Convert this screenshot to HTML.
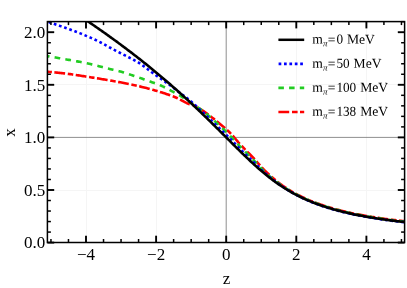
<!DOCTYPE html>
<html><head><meta charset="utf-8"><style>
html,body{margin:0;padding:0;background:#fff;}
svg{display:block;font-family:"Liberation Serif",serif;will-change:transform;}
text{fill:#000;}
</style></head><body>
<svg width="407" height="288" viewBox="0 0 407 288">
<rect width="407" height="288" fill="#fff"/>
<defs><clipPath id="c"><rect x="47.4" y="21.6" width="357.20000000000005" height="220.9"/></clipPath></defs>
<line x1="86.50" y1="21.60" x2="86.50" y2="242.50" stroke="#f5f5f5" stroke-width="1"/><line x1="156.50" y1="21.60" x2="156.50" y2="242.50" stroke="#f5f5f5" stroke-width="1"/><line x1="296.50" y1="21.60" x2="296.50" y2="242.50" stroke="#f5f5f5" stroke-width="1"/><line x1="366.50" y1="21.60" x2="366.50" y2="242.50" stroke="#f5f5f5" stroke-width="1"/><line x1="47.40" y1="190.50" x2="404.60" y2="190.50" stroke="#f5f5f5" stroke-width="1"/><line x1="47.40" y1="84.50" x2="404.60" y2="84.50" stroke="#f5f5f5" stroke-width="1"/>
<line x1="226.20" y1="21.60" x2="226.20" y2="242.50" stroke="#6a6a6a" stroke-width="0.75"/><line x1="47.40" y1="137.40" x2="404.60" y2="137.40" stroke="#6a6a6a" stroke-width="0.75"/>
<g clip-path="url(#c)"><path d="M47.40,71.75 L48.59,71.85 L49.79,71.95 L50.98,72.05 L52.18,72.16 L53.37,72.27 L54.57,72.38 L55.76,72.50 L56.96,72.62 L58.15,72.74 L59.35,72.87 L60.54,73.00 L61.74,73.13 L62.93,73.26 L64.13,73.40 L65.32,73.54 L66.51,73.69 L67.71,73.84 L68.90,74.00 L70.10,74.16 L71.29,74.32 L72.49,74.49 L73.68,74.66 L74.88,74.83 L76.07,75.01 L77.27,75.19 L78.46,75.37 L79.66,75.55 L80.85,75.74 L82.04,75.92 L83.24,76.11 L84.43,76.29 L85.63,76.48 L86.82,76.66 L88.02,76.85 L89.21,77.04 L90.41,77.22 L91.60,77.41 L92.80,77.61 L93.99,77.80 L95.19,77.99 L96.38,78.19 L97.58,78.39 L98.77,78.58 L99.96,78.78 L101.16,78.98 L102.35,79.19 L103.55,79.39 L104.74,79.59 L105.94,79.80 L107.13,80.01 L108.33,80.21 L109.52,80.42 L110.72,80.63 L111.91,80.84 L113.11,81.05 L114.30,81.26 L115.49,81.47 L116.69,81.68 L117.88,81.90 L119.08,82.11 L120.27,82.33 L121.47,82.55 L122.66,82.78 L123.86,83.01 L125.05,83.24 L126.25,83.48 L127.44,83.72 L128.64,83.96 L129.83,84.21 L131.03,84.47 L132.22,84.72 L133.41,84.98 L134.61,85.25 L135.80,85.51 L137.00,85.78 L138.19,86.05 L139.39,86.33 L140.58,86.61 L141.78,86.90 L142.97,87.19 L144.17,87.49 L145.36,87.79 L146.56,88.09 L147.75,88.40 L148.95,88.72 L150.14,89.05 L151.33,89.37 L152.53,89.71 L153.72,90.04 L154.92,90.38 L156.11,90.73 L157.31,91.08 L158.50,91.44 L159.70,91.81 L160.89,92.18 L162.09,92.56 L163.28,92.95 L164.48,93.35 L165.67,93.76 L166.86,94.17 L168.06,94.58 L169.25,95.00 L170.45,95.43 L171.64,95.88 L172.84,96.33 L174.03,96.81 L175.23,97.30 L176.42,97.81 L177.62,98.36 L178.81,98.94 L180.01,99.55 L181.20,100.19 L182.40,100.82 L183.59,101.46 L184.78,102.08 L185.98,102.68 L187.17,103.24 L188.37,103.76 L189.56,104.16 L190.76,104.47 L191.95,104.76 L193.15,105.14 L194.34,105.66 L195.54,106.26 L196.73,106.91 L197.93,107.60 L199.12,108.32 L200.32,109.06 L201.51,109.83 L202.70,110.62 L203.90,111.44 L205.09,112.28 L206.29,113.14 L207.48,114.02 L208.68,114.91 L209.87,115.82 L211.07,116.74 L212.26,117.68 L213.46,118.64 L214.65,119.62 L215.85,120.58 L217.04,121.55 L218.23,122.51 L219.43,123.49 L220.62,124.46 L221.82,125.45 L223.01,126.46 L224.21,127.48 L225.40,128.52 L226.60,129.59 L227.79,130.68 L228.99,131.81 L230.18,132.97 L231.38,134.18 L232.57,135.48 L233.77,136.86 L234.96,138.29 L236.15,139.74 L237.35,141.18 L238.54,142.59 L239.74,143.92 L240.93,145.21 L242.13,146.47 L243.32,147.71 L244.52,148.94 L245.71,150.16 L246.91,151.37 L248.10,152.58 L249.30,153.79 L250.49,155.00 L251.68,156.23 L252.88,157.46 L254.07,158.75 L255.27,160.06 L256.46,161.41 L257.66,162.76 L258.85,164.12 L260.05,165.47 L261.24,166.81 L262.44,168.11 L263.63,169.36 L264.83,170.57 L266.02,171.74 L267.22,172.89 L268.41,174.03 L269.60,175.14 L270.80,176.23 L271.99,177.29 L273.19,178.33 L274.38,179.34 L275.58,180.32 L276.77,181.27 L277.97,182.19 L279.16,183.09 L280.36,183.97 L281.55,184.84 L282.75,185.69 L283.94,186.52 L285.14,187.34 L286.33,188.14 L287.52,188.92 L288.72,189.68 L289.91,190.42 L291.11,191.14 L292.30,191.85 L293.50,192.53 L294.69,193.20 L295.89,193.84 L297.08,194.47 L298.28,195.08 L299.47,195.69 L300.67,196.28 L301.86,196.85 L303.05,197.42 L304.25,197.97 L305.44,198.52 L306.64,199.05 L307.83,199.57 L309.03,200.08 L310.22,200.59 L311.42,201.08 L312.61,201.56 L313.81,202.03 L315.00,202.49 L316.20,202.94 L317.39,203.39 L318.59,203.82 L319.78,204.25 L320.97,204.67 L322.17,205.08 L323.36,205.48 L324.56,205.87 L325.75,206.26 L326.95,206.64 L328.14,207.01 L329.34,207.37 L330.53,207.73 L331.73,208.08 L332.92,208.42 L334.12,208.76 L335.31,209.09 L336.51,209.42 L337.70,209.74 L338.89,210.05 L340.09,210.36 L341.28,210.66 L342.48,210.96 L343.67,211.25 L344.87,211.54 L346.06,211.82 L347.26,212.09 L348.45,212.37 L349.65,212.63 L350.84,212.90 L352.04,213.15 L353.23,213.41 L354.42,213.66 L355.62,213.90 L356.81,214.15 L358.01,214.38 L359.20,214.62 L360.40,214.85 L361.59,215.07 L362.79,215.30 L363.98,215.51 L365.18,215.73 L366.37,215.94 L367.57,216.15 L368.76,216.36 L369.96,216.56 L371.15,216.76 L372.34,216.95 L373.54,217.14 L374.73,217.33 L375.93,217.52 L377.12,217.71 L378.32,217.89 L379.51,218.06 L380.71,218.24 L381.90,218.41 L383.10,218.58 L384.29,218.75 L385.49,218.92 L386.68,219.08 L387.87,219.24 L389.07,219.40 L390.26,219.56 L391.46,219.71 L392.65,219.86 L393.85,220.01 L395.04,220.16 L396.24,220.30 L397.43,220.44 L398.63,220.58 L399.82,220.72 L401.02,220.86 L402.21,220.99 L403.41,221.13 L404.60,221.26" fill="none" stroke="#ff0000" stroke-width="2.6" stroke-dasharray="10.8 2.7 5.5 2.5" stroke-dashoffset="14.5"/><path d="M47.40,56.18 L48.59,56.37 L49.79,56.57 L50.98,56.77 L52.18,56.97 L53.37,57.17 L54.57,57.37 L55.76,57.57 L56.96,57.78 L58.15,57.98 L59.35,58.19 L60.54,58.40 L61.74,58.60 L62.93,58.81 L64.13,59.03 L65.32,59.24 L66.51,59.45 L67.71,59.67 L68.90,59.88 L70.10,60.09 L71.29,60.31 L72.49,60.52 L73.68,60.74 L74.88,60.95 L76.07,61.17 L77.27,61.39 L78.46,61.61 L79.66,61.84 L80.85,62.07 L82.04,62.30 L83.24,62.54 L84.43,62.79 L85.63,63.03 L86.82,63.29 L88.02,63.55 L89.21,63.82 L90.41,64.09 L91.60,64.38 L92.80,64.66 L93.99,64.95 L95.19,65.25 L96.38,65.55 L97.58,65.85 L98.77,66.15 L99.96,66.46 L101.16,66.77 L102.35,67.08 L103.55,67.38 L104.74,67.69 L105.94,68.00 L107.13,68.30 L108.33,68.61 L109.52,68.91 L110.72,69.20 L111.91,69.48 L113.11,69.77 L114.30,70.05 L115.49,70.33 L116.69,70.62 L117.88,70.92 L119.08,71.22 L120.27,71.54 L121.47,71.87 L122.66,72.22 L123.86,72.58 L125.05,72.94 L126.25,73.32 L127.44,73.70 L128.64,74.09 L129.83,74.48 L131.03,74.87 L132.22,75.27 L133.41,75.67 L134.61,76.07 L135.80,76.47 L137.00,76.88 L138.19,77.29 L139.39,77.71 L140.58,78.13 L141.78,78.56 L142.97,78.98 L144.17,79.41 L145.36,79.85 L146.56,80.28 L147.75,80.72 L148.95,81.15 L150.14,81.59 L151.33,82.02 L152.53,82.44 L153.72,82.85 L154.92,83.27 L156.11,83.69 L157.31,84.12 L158.50,84.58 L159.70,85.05 L160.89,85.55 L162.09,86.08 L163.28,86.64 L164.48,87.23 L165.67,87.83 L166.86,88.45 L168.06,89.08 L169.25,89.73 L170.45,90.37 L171.64,91.02 L172.84,91.66 L174.03,92.30 L175.23,92.94 L176.42,93.60 L177.62,94.26 L178.81,94.95 L180.01,95.66 L181.20,96.40 L182.40,97.16 L183.59,97.92 L184.78,98.68 L185.98,99.44 L187.17,100.21 L188.37,100.98 L189.56,101.76 L190.76,102.55 L191.95,103.34 L193.15,104.14 L194.34,104.95 L195.54,105.77 L196.73,106.60 L197.93,107.45 L199.12,108.30 L200.32,109.17 L201.51,110.06 L202.70,110.96 L203.90,111.87 L205.09,112.81 L206.29,113.76 L207.48,114.72 L208.68,115.71 L209.87,116.72 L211.07,117.75 L212.26,118.80 L213.46,119.88 L214.65,120.97 L215.85,122.09 L217.04,123.22 L218.23,124.34 L219.43,125.47 L220.62,126.61 L221.82,127.75 L223.01,128.90 L224.21,130.05 L225.40,131.21 L226.60,132.38 L227.79,133.55 L228.99,134.73 L230.18,135.91 L231.38,137.11 L232.57,138.36 L233.77,139.64 L234.96,140.94 L236.15,142.26 L237.35,143.57 L238.54,144.86 L239.74,146.13 L240.93,147.37 L242.13,148.59 L243.32,149.81 L244.52,151.01 L245.71,152.20 L246.91,153.39 L248.10,154.58 L249.30,155.76 L250.49,156.95 L251.68,158.14 L252.88,159.34 L254.07,160.59 L255.27,161.87 L256.46,163.19 L257.66,164.51 L258.85,165.84 L260.05,167.16 L261.24,168.45 L262.44,169.70 L263.63,170.90 L264.83,172.04 L266.02,173.13 L267.22,174.20 L268.41,175.25 L269.60,176.29 L270.80,177.29 L271.99,178.28 L273.19,179.25 L274.38,180.19 L275.58,181.11 L276.77,182.01 L277.97,182.89 L279.16,183.75 L280.36,184.60 L281.55,185.43 L282.75,186.25 L283.94,187.04 L285.14,187.83 L286.33,188.59 L287.52,189.34 L288.72,190.08 L289.91,190.80 L291.11,191.50 L292.30,192.19 L293.50,192.86 L294.69,193.52 L295.89,194.16 L297.08,194.78 L298.28,195.40 L299.47,196.00 L300.67,196.59 L301.86,197.17 L303.05,197.73 L304.25,198.29 L305.44,198.83 L306.64,199.36 L307.83,199.89 L309.03,200.40 L310.22,200.90 L311.42,201.39 L312.61,201.87 L313.81,202.34 L315.00,202.81 L316.20,203.26 L317.39,203.70 L318.59,204.14 L319.78,204.56 L320.97,204.98 L322.17,205.39 L323.36,205.79 L324.56,206.19 L325.75,206.57 L326.95,206.95 L328.14,207.32 L329.34,207.69 L330.53,208.04 L331.73,208.39 L332.92,208.74 L334.12,209.08 L335.31,209.41 L336.51,209.73 L337.70,210.05 L338.89,210.37 L340.09,210.67 L341.28,210.98 L342.48,211.27 L343.67,211.56 L344.87,211.85 L346.06,212.13 L347.26,212.41 L348.45,212.68 L349.65,212.95 L350.84,213.21 L352.04,213.47 L353.23,213.73 L354.42,213.98 L355.62,214.22 L356.81,214.47 L358.01,214.70 L359.20,214.94 L360.40,215.17 L361.59,215.39 L362.79,215.62 L363.98,215.84 L365.18,216.05 L366.37,216.27 L367.57,216.48 L368.76,216.68 L369.96,216.89 L371.15,217.09 L372.34,217.28 L373.54,217.48 L374.73,217.67 L375.93,217.86 L377.12,218.04 L378.32,218.23 L379.51,218.41 L380.71,218.58 L381.90,218.76 L383.10,218.93 L384.29,219.10 L385.49,219.27 L386.68,219.43 L387.87,219.60 L389.07,219.76 L390.26,219.92 L391.46,220.07 L392.65,220.23 L393.85,220.38 L395.04,220.53 L396.24,220.68 L397.43,220.83 L398.63,220.97 L399.82,221.11 L401.02,221.25 L402.21,221.39 L403.41,221.53 L404.60,221.66" fill="none" stroke="#22cc22" stroke-width="2.6" stroke-dasharray="5.7 5.2" stroke-dashoffset="3.6"/><path d="M47.40,21.64 L48.59,22.04 L49.79,22.43 L50.98,22.83 L52.18,23.24 L53.37,23.64 L54.57,24.05 L55.76,24.46 L56.96,24.87 L58.15,25.28 L59.35,25.70 L60.54,26.12 L61.74,26.54 L62.93,26.97 L64.13,27.40 L65.32,27.83 L66.51,28.26 L67.71,28.69 L68.90,29.12 L70.10,29.56 L71.29,29.99 L72.49,30.43 L73.68,30.87 L74.88,31.32 L76.07,31.77 L77.27,32.22 L78.46,32.68 L79.66,33.15 L80.85,33.62 L82.04,34.10 L83.24,34.59 L84.43,35.08 L85.63,35.58 L86.82,36.09 L88.02,36.60 L89.21,37.12 L90.41,37.64 L91.60,38.16 L92.80,38.70 L93.99,39.24 L95.19,39.79 L96.38,40.35 L97.58,40.93 L98.77,41.52 L99.96,42.12 L101.16,42.73 L102.35,43.36 L103.55,44.01 L104.74,44.67 L105.94,45.33 L107.13,46.00 L108.33,46.67 L109.52,47.34 L110.72,48.01 L111.91,48.68 L113.11,49.33 L114.30,49.98 L115.49,50.61 L116.69,51.23 L117.88,51.84 L119.08,52.44 L120.27,53.03 L121.47,53.63 L122.66,54.22 L123.86,54.81 L125.05,55.40 L126.25,56.01 L127.44,56.62 L128.64,57.24 L129.83,57.88 L131.03,58.50 L132.22,59.11 L133.41,59.72 L134.61,60.35 L135.80,60.99 L137.00,61.66 L138.19,62.37 L139.39,63.13 L140.58,63.94 L141.78,64.78 L142.97,65.64 L144.17,66.52 L145.36,67.40 L146.56,68.30 L147.75,69.20 L148.95,70.11 L150.14,71.02 L151.33,71.92 L152.53,72.82 L153.72,73.71 L154.92,74.59 L156.11,75.45 L157.31,76.30 L158.50,77.14 L159.70,77.96 L160.89,78.78 L162.09,79.60 L163.28,80.43 L164.48,81.25 L165.67,82.09 L166.86,82.93 L168.06,83.79 L169.25,84.67 L170.45,85.57 L171.64,86.47 L172.84,87.38 L174.03,88.31 L175.23,89.25 L176.42,90.20 L177.62,91.16 L178.81,92.10 L180.01,93.02 L181.20,93.88 L182.40,94.70 L183.59,95.53 L184.78,96.43 L185.98,97.35 L187.17,98.30 L188.37,99.28 L189.56,100.28 L190.76,101.30 L191.95,102.33 L193.15,103.39 L194.34,104.45 L195.54,105.54 L196.73,106.63 L197.93,107.73 L199.12,108.83 L200.32,109.95 L201.51,111.06 L202.70,112.19 L203.90,113.32 L205.09,114.45 L206.29,115.59 L207.48,116.73 L208.68,117.88 L209.87,119.03 L211.07,120.18 L212.26,121.33 L213.46,122.49 L214.65,123.65 L215.85,124.81 L217.04,125.97 L218.23,127.13 L219.43,128.29 L220.62,129.44 L221.82,130.59 L223.01,131.75 L224.21,132.90 L225.40,134.06 L226.60,135.22 L227.79,136.39 L228.99,137.57 L230.18,138.75 L231.38,139.95 L232.57,141.16 L233.77,142.39 L234.96,143.62 L236.15,144.86 L237.35,146.09 L238.54,147.32 L239.74,148.53 L240.93,149.73 L242.13,150.92 L243.32,152.10 L244.52,153.27 L245.71,154.43 L246.91,155.59 L248.10,156.74 L249.30,157.89 L250.49,159.03 L251.68,160.17 L252.88,161.31 L254.07,162.47 L255.27,163.64 L256.46,164.83 L257.66,166.02 L258.85,167.21 L260.05,168.39 L261.24,169.56 L262.44,170.70 L263.63,171.80 L264.83,172.88 L266.02,173.92 L267.22,174.95 L268.41,175.96 L269.60,176.95 L270.80,177.92 L271.99,178.88 L273.19,179.82 L274.38,180.75 L275.58,181.65 L276.77,182.54 L277.97,183.41 L279.16,184.27 L280.36,185.11 L281.55,185.94 L282.75,186.75 L283.94,187.55 L285.14,188.33 L286.33,189.10 L287.52,189.85 L288.72,190.58 L289.91,191.31 L291.11,192.01 L292.30,192.70 L293.50,193.38 L294.69,194.04 L295.89,194.68 L297.08,195.31 L298.28,195.93 L299.47,196.54 L300.67,197.13 L301.86,197.72 L303.05,198.29 L304.25,198.85 L305.44,199.40 L306.64,199.93 L307.83,200.46 L309.03,200.98 L310.22,201.48 L311.42,201.98 L312.61,202.46 L313.81,202.94 L315.00,203.41 L316.20,203.86 L317.39,204.31 L318.59,204.75 L319.78,205.18 L320.97,205.60 L322.17,206.01 L323.36,206.42 L324.56,206.81 L325.75,207.20 L326.95,207.58 L328.14,207.95 L329.34,208.32 L330.53,208.68 L331.73,209.03 L332.92,209.37 L334.12,209.71 L335.31,210.04 L336.51,210.36 L337.70,210.68 L338.89,211.00 L340.09,211.30 L341.28,211.61 L342.48,211.90 L343.67,212.20 L344.87,212.48 L346.06,212.76 L347.26,213.04 L348.45,213.31 L349.65,213.58 L350.84,213.84 L352.04,214.10 L353.23,214.36 L354.42,214.61 L355.62,214.85 L356.81,215.10 L358.01,215.33 L359.20,215.57 L360.40,215.80 L361.59,216.03 L362.79,216.25 L363.98,216.47 L365.18,216.69 L366.37,216.90 L367.57,217.11 L368.76,217.31 L369.96,217.52 L371.15,217.72 L372.34,217.91 L373.54,218.11 L374.73,218.30 L375.93,218.49 L377.12,218.67 L378.32,218.86 L379.51,219.04 L380.71,219.21 L381.90,219.39 L383.10,219.56 L384.29,219.73 L385.49,219.90 L386.68,220.07 L387.87,220.23 L389.07,220.39 L390.26,220.55 L391.46,220.71 L392.65,220.86 L393.85,221.01 L395.04,221.16 L396.24,221.31 L397.43,221.46 L398.63,221.60 L399.82,221.74 L401.02,221.88 L402.21,222.02 L403.41,222.16 L404.60,222.30" fill="none" stroke="#0000ff" stroke-width="2.6" stroke-dasharray="2.7 2.75" stroke-dashoffset="4.1"/><path d="M47.40,-4.71 L48.59,-3.98 L49.79,-3.24 L50.98,-2.50 L52.18,-1.76 L53.37,-1.02 L54.57,-0.27 L55.76,0.48 L56.96,1.23 L58.15,1.98 L59.35,2.73 L60.54,3.49 L61.74,4.24 L62.93,5.00 L64.13,5.76 L65.32,6.53 L66.51,7.29 L67.71,8.06 L68.90,8.83 L70.10,9.61 L71.29,10.38 L72.49,11.16 L73.68,11.94 L74.88,12.72 L76.07,13.50 L77.27,14.29 L78.46,15.08 L79.66,15.87 L80.85,16.66 L82.04,17.46 L83.24,18.26 L84.43,19.06 L85.63,19.86 L86.82,20.67 L88.02,21.48 L89.21,22.29 L90.41,23.10 L91.60,23.91 L92.80,24.73 L93.99,25.55 L95.19,26.38 L96.38,27.20 L97.58,28.03 L98.77,28.86 L99.96,29.70 L101.16,30.53 L102.35,31.37 L103.55,32.22 L104.74,33.06 L105.94,33.91 L107.13,34.76 L108.33,35.61 L109.52,36.47 L110.72,37.33 L111.91,38.19 L113.11,39.06 L114.30,39.93 L115.49,40.80 L116.69,41.67 L117.88,42.55 L119.08,43.43 L120.27,44.31 L121.47,45.20 L122.66,46.09 L123.86,46.98 L125.05,47.88 L126.25,48.78 L127.44,49.68 L128.64,50.59 L129.83,51.50 L131.03,52.41 L132.22,53.32 L133.41,54.24 L134.61,55.17 L135.80,56.09 L137.00,57.02 L138.19,57.96 L139.39,58.89 L140.58,59.83 L141.78,60.78 L142.97,61.72 L144.17,62.68 L145.36,63.63 L146.56,64.59 L147.75,65.55 L148.95,66.52 L150.14,67.49 L151.33,68.46 L152.53,69.44 L153.72,70.42 L154.92,71.40 L156.11,72.39 L157.31,73.39 L158.50,74.38 L159.70,75.38 L160.89,76.39 L162.09,77.40 L163.28,78.41 L164.48,79.43 L165.67,80.45 L166.86,81.48 L168.06,82.51 L169.25,83.54 L170.45,84.58 L171.64,85.62 L172.84,86.67 L174.03,87.72 L175.23,88.77 L176.42,89.83 L177.62,90.89 L178.81,91.96 L180.01,93.03 L181.20,94.11 L182.40,95.19 L183.59,96.28 L184.78,97.36 L185.98,98.46 L187.17,99.56 L188.37,100.66 L189.56,101.76 L190.76,102.87 L191.95,103.99 L193.15,105.11 L194.34,106.23 L195.54,107.36 L196.73,108.49 L197.93,109.62 L199.12,110.76 L200.32,111.90 L201.51,113.05 L202.70,114.20 L203.90,115.36 L205.09,116.51 L206.29,117.67 L207.48,118.84 L208.68,120.01 L209.87,121.18 L211.07,122.35 L212.26,123.53 L213.46,124.71 L214.65,125.89 L215.85,127.07 L217.04,128.26 L218.23,129.45 L219.43,130.63 L220.62,131.83 L221.82,133.02 L223.01,134.21 L224.21,135.41 L225.40,136.60 L226.60,137.80 L227.79,138.99 L228.99,140.19 L230.18,141.38 L231.38,142.57 L232.57,143.77 L233.77,144.95 L234.96,146.14 L236.15,147.33 L237.35,148.51 L238.54,149.69 L239.74,150.86 L240.93,152.03 L242.13,153.20 L243.32,154.36 L244.52,155.51 L245.71,156.66 L246.91,157.80 L248.10,158.93 L249.30,160.06 L250.49,161.18 L251.68,162.29 L252.88,163.39 L254.07,164.48 L255.27,165.56 L256.46,166.64 L257.66,167.70 L258.85,168.75 L260.05,169.79 L261.24,170.81 L262.44,171.83 L263.63,172.83 L264.83,173.82 L266.02,174.80 L267.22,175.76 L268.41,176.71 L269.60,177.65 L270.80,178.57 L271.99,179.48 L273.19,180.37 L274.38,181.25 L275.58,182.12 L276.77,182.97 L277.97,183.81 L279.16,184.63 L280.36,185.44 L281.55,186.23 L282.75,187.01 L283.94,187.78 L285.14,188.53 L286.33,189.27 L287.52,189.99 L288.72,190.70 L289.91,191.40 L291.11,192.08 L292.30,192.75 L293.50,193.41 L294.69,194.06 L295.89,194.69 L297.08,195.31 L298.28,195.91 L299.47,196.51 L300.67,197.09 L301.86,197.66 L303.05,198.22 L304.25,198.77 L305.44,199.31 L306.64,199.84 L307.83,200.36 L309.03,200.86 L310.22,201.36 L311.42,201.85 L312.61,202.32 L313.81,202.79 L315.00,203.25 L316.20,203.70 L317.39,204.14 L318.59,204.57 L319.78,205.00 L320.97,205.41 L322.17,205.82 L323.36,206.22 L324.56,206.61 L325.75,207.00 L326.95,207.38 L328.14,207.75 L329.34,208.11 L330.53,208.47 L331.73,208.82 L332.92,209.16 L334.12,209.50 L335.31,209.83 L336.51,210.15 L337.70,210.47 L338.89,210.79 L340.09,211.09 L341.28,211.40 L342.48,211.69 L343.67,211.99 L344.87,212.27 L346.06,212.55 L347.26,212.83 L348.45,213.10 L349.65,213.37 L350.84,213.63 L352.04,213.89 L353.23,214.15 L354.42,214.40 L355.62,214.64 L356.81,214.89 L358.01,215.12 L359.20,215.36 L360.40,215.59 L361.59,215.82 L362.79,216.04 L363.98,216.26 L365.18,216.47 L366.37,216.69 L367.57,216.90 L368.76,217.10 L369.96,217.31 L371.15,217.51 L372.34,217.70 L373.54,217.90 L374.73,218.09 L375.93,218.28 L377.12,218.46 L378.32,218.65 L379.51,218.83 L380.71,219.00 L381.90,219.18 L383.10,219.35 L384.29,219.52 L385.49,219.69 L386.68,219.86 L387.87,220.02 L389.07,220.18 L390.26,220.34 L391.46,220.49 L392.65,220.65 L393.85,220.80 L395.04,220.95 L396.24,221.10 L397.43,221.25 L398.63,221.39 L399.82,221.53 L401.02,221.67 L402.21,221.81 L403.41,221.95 L404.60,222.08" fill="none" stroke="#000" stroke-width="2.6"/></g>
<line x1="50.95" y1="242.50" x2="50.95" y2="239.00" stroke="#000" stroke-width="1.5"/><line x1="50.95" y1="21.60" x2="50.95" y2="25.10" stroke="#000" stroke-width="1.5"/><line x1="68.47" y1="242.50" x2="68.47" y2="239.00" stroke="#000" stroke-width="1.5"/><line x1="68.47" y1="21.60" x2="68.47" y2="25.10" stroke="#000" stroke-width="1.5"/><line x1="86.00" y1="242.50" x2="86.00" y2="235.70" stroke="#000" stroke-width="1.9"/><line x1="86.00" y1="21.60" x2="86.00" y2="28.40" stroke="#000" stroke-width="1.9"/><line x1="103.53" y1="242.50" x2="103.53" y2="239.00" stroke="#000" stroke-width="1.5"/><line x1="103.53" y1="21.60" x2="103.53" y2="25.10" stroke="#000" stroke-width="1.5"/><line x1="121.05" y1="242.50" x2="121.05" y2="239.00" stroke="#000" stroke-width="1.5"/><line x1="121.05" y1="21.60" x2="121.05" y2="25.10" stroke="#000" stroke-width="1.5"/><line x1="138.57" y1="242.50" x2="138.57" y2="239.00" stroke="#000" stroke-width="1.5"/><line x1="138.57" y1="21.60" x2="138.57" y2="25.10" stroke="#000" stroke-width="1.5"/><line x1="156.10" y1="242.50" x2="156.10" y2="235.70" stroke="#000" stroke-width="1.9"/><line x1="156.10" y1="21.60" x2="156.10" y2="28.40" stroke="#000" stroke-width="1.9"/><line x1="173.62" y1="242.50" x2="173.62" y2="239.00" stroke="#000" stroke-width="1.5"/><line x1="173.62" y1="21.60" x2="173.62" y2="25.10" stroke="#000" stroke-width="1.5"/><line x1="191.15" y1="242.50" x2="191.15" y2="239.00" stroke="#000" stroke-width="1.5"/><line x1="191.15" y1="21.60" x2="191.15" y2="25.10" stroke="#000" stroke-width="1.5"/><line x1="208.67" y1="242.50" x2="208.67" y2="239.00" stroke="#000" stroke-width="1.5"/><line x1="208.67" y1="21.60" x2="208.67" y2="25.10" stroke="#000" stroke-width="1.5"/><line x1="226.20" y1="242.50" x2="226.20" y2="235.70" stroke="#000" stroke-width="1.9"/><line x1="226.20" y1="21.60" x2="226.20" y2="28.40" stroke="#000" stroke-width="1.9"/><line x1="243.72" y1="242.50" x2="243.72" y2="239.00" stroke="#000" stroke-width="1.5"/><line x1="243.72" y1="21.60" x2="243.72" y2="25.10" stroke="#000" stroke-width="1.5"/><line x1="261.25" y1="242.50" x2="261.25" y2="239.00" stroke="#000" stroke-width="1.5"/><line x1="261.25" y1="21.60" x2="261.25" y2="25.10" stroke="#000" stroke-width="1.5"/><line x1="278.77" y1="242.50" x2="278.77" y2="239.00" stroke="#000" stroke-width="1.5"/><line x1="278.77" y1="21.60" x2="278.77" y2="25.10" stroke="#000" stroke-width="1.5"/><line x1="296.30" y1="242.50" x2="296.30" y2="235.70" stroke="#000" stroke-width="1.9"/><line x1="296.30" y1="21.60" x2="296.30" y2="28.40" stroke="#000" stroke-width="1.9"/><line x1="313.82" y1="242.50" x2="313.82" y2="239.00" stroke="#000" stroke-width="1.5"/><line x1="313.82" y1="21.60" x2="313.82" y2="25.10" stroke="#000" stroke-width="1.5"/><line x1="331.35" y1="242.50" x2="331.35" y2="239.00" stroke="#000" stroke-width="1.5"/><line x1="331.35" y1="21.60" x2="331.35" y2="25.10" stroke="#000" stroke-width="1.5"/><line x1="348.88" y1="242.50" x2="348.88" y2="239.00" stroke="#000" stroke-width="1.5"/><line x1="348.88" y1="21.60" x2="348.88" y2="25.10" stroke="#000" stroke-width="1.5"/><line x1="366.40" y1="242.50" x2="366.40" y2="235.70" stroke="#000" stroke-width="1.9"/><line x1="366.40" y1="21.60" x2="366.40" y2="28.40" stroke="#000" stroke-width="1.9"/><line x1="383.92" y1="242.50" x2="383.92" y2="239.00" stroke="#000" stroke-width="1.5"/><line x1="383.92" y1="21.60" x2="383.92" y2="25.10" stroke="#000" stroke-width="1.5"/><line x1="401.45" y1="242.50" x2="401.45" y2="239.00" stroke="#000" stroke-width="1.5"/><line x1="401.45" y1="21.60" x2="401.45" y2="25.10" stroke="#000" stroke-width="1.5"/><line x1="47.40" y1="242.60" x2="54.20" y2="242.60" stroke="#000" stroke-width="1.9"/><line x1="404.60" y1="242.60" x2="397.80" y2="242.60" stroke="#000" stroke-width="1.9"/><line x1="47.40" y1="232.08" x2="50.90" y2="232.08" stroke="#000" stroke-width="1.5"/><line x1="404.60" y1="232.08" x2="401.10" y2="232.08" stroke="#000" stroke-width="1.5"/><line x1="47.40" y1="221.56" x2="50.90" y2="221.56" stroke="#000" stroke-width="1.5"/><line x1="404.60" y1="221.56" x2="401.10" y2="221.56" stroke="#000" stroke-width="1.5"/><line x1="47.40" y1="211.04" x2="50.90" y2="211.04" stroke="#000" stroke-width="1.5"/><line x1="404.60" y1="211.04" x2="401.10" y2="211.04" stroke="#000" stroke-width="1.5"/><line x1="47.40" y1="200.52" x2="50.90" y2="200.52" stroke="#000" stroke-width="1.5"/><line x1="404.60" y1="200.52" x2="401.10" y2="200.52" stroke="#000" stroke-width="1.5"/><line x1="47.40" y1="190.00" x2="54.20" y2="190.00" stroke="#000" stroke-width="1.9"/><line x1="404.60" y1="190.00" x2="397.80" y2="190.00" stroke="#000" stroke-width="1.9"/><line x1="47.40" y1="179.48" x2="50.90" y2="179.48" stroke="#000" stroke-width="1.5"/><line x1="404.60" y1="179.48" x2="401.10" y2="179.48" stroke="#000" stroke-width="1.5"/><line x1="47.40" y1="168.96" x2="50.90" y2="168.96" stroke="#000" stroke-width="1.5"/><line x1="404.60" y1="168.96" x2="401.10" y2="168.96" stroke="#000" stroke-width="1.5"/><line x1="47.40" y1="158.44" x2="50.90" y2="158.44" stroke="#000" stroke-width="1.5"/><line x1="404.60" y1="158.44" x2="401.10" y2="158.44" stroke="#000" stroke-width="1.5"/><line x1="47.40" y1="147.92" x2="50.90" y2="147.92" stroke="#000" stroke-width="1.5"/><line x1="404.60" y1="147.92" x2="401.10" y2="147.92" stroke="#000" stroke-width="1.5"/><line x1="47.40" y1="137.40" x2="54.20" y2="137.40" stroke="#000" stroke-width="1.9"/><line x1="404.60" y1="137.40" x2="397.80" y2="137.40" stroke="#000" stroke-width="1.9"/><line x1="47.40" y1="126.88" x2="50.90" y2="126.88" stroke="#000" stroke-width="1.5"/><line x1="404.60" y1="126.88" x2="401.10" y2="126.88" stroke="#000" stroke-width="1.5"/><line x1="47.40" y1="116.36" x2="50.90" y2="116.36" stroke="#000" stroke-width="1.5"/><line x1="404.60" y1="116.36" x2="401.10" y2="116.36" stroke="#000" stroke-width="1.5"/><line x1="47.40" y1="105.84" x2="50.90" y2="105.84" stroke="#000" stroke-width="1.5"/><line x1="404.60" y1="105.84" x2="401.10" y2="105.84" stroke="#000" stroke-width="1.5"/><line x1="47.40" y1="95.32" x2="50.90" y2="95.32" stroke="#000" stroke-width="1.5"/><line x1="404.60" y1="95.32" x2="401.10" y2="95.32" stroke="#000" stroke-width="1.5"/><line x1="47.40" y1="84.80" x2="54.20" y2="84.80" stroke="#000" stroke-width="1.9"/><line x1="404.60" y1="84.80" x2="397.80" y2="84.80" stroke="#000" stroke-width="1.9"/><line x1="47.40" y1="74.28" x2="50.90" y2="74.28" stroke="#000" stroke-width="1.5"/><line x1="404.60" y1="74.28" x2="401.10" y2="74.28" stroke="#000" stroke-width="1.5"/><line x1="47.40" y1="63.76" x2="50.90" y2="63.76" stroke="#000" stroke-width="1.5"/><line x1="404.60" y1="63.76" x2="401.10" y2="63.76" stroke="#000" stroke-width="1.5"/><line x1="47.40" y1="53.24" x2="50.90" y2="53.24" stroke="#000" stroke-width="1.5"/><line x1="404.60" y1="53.24" x2="401.10" y2="53.24" stroke="#000" stroke-width="1.5"/><line x1="47.40" y1="42.72" x2="50.90" y2="42.72" stroke="#000" stroke-width="1.5"/><line x1="404.60" y1="42.72" x2="401.10" y2="42.72" stroke="#000" stroke-width="1.5"/><line x1="47.40" y1="32.20" x2="54.20" y2="32.20" stroke="#000" stroke-width="1.9"/><line x1="404.60" y1="32.20" x2="397.80" y2="32.20" stroke="#000" stroke-width="1.9"/><line x1="47.40" y1="21.68" x2="50.90" y2="21.68" stroke="#000" stroke-width="1.5"/><line x1="404.60" y1="21.68" x2="401.10" y2="21.68" stroke="#000" stroke-width="1.5"/>
<rect x="47.4" y="21.6" width="357.20000000000005" height="220.9" fill="none" stroke="#000" stroke-width="1.5"/>
<text x="86.00" y="260.3" text-anchor="middle" font-size="17">−4</text><text x="156.10" y="260.3" text-anchor="middle" font-size="17">−2</text><text x="226.20" y="260.3" text-anchor="middle" font-size="17">0</text><text x="296.30" y="260.3" text-anchor="middle" font-size="17">2</text><text x="366.40" y="260.3" text-anchor="middle" font-size="17">4</text><text x="45.2" y="248.30" text-anchor="end" font-size="17">0.0</text><text x="45.2" y="195.70" text-anchor="end" font-size="17">0.5</text><text x="45.2" y="143.10" text-anchor="end" font-size="17">1.0</text><text x="45.2" y="90.50" text-anchor="end" font-size="17">1.5</text><text x="45.2" y="37.90" text-anchor="end" font-size="17">2.0</text><text x="226.4" y="283.6" text-anchor="middle" font-size="17">z</text><text transform="translate(15.2,132.5) rotate(-90)" text-anchor="middle" font-size="17">x</text>
<line x1="278.4" y1="39.8" x2="304.2" y2="39.8" stroke="#000" stroke-width="2.5"/><text transform="translate(312.3,43.6) rotate(0.2)" font-size="13.6" >m</text><text transform="translate(322.9,46.3) rotate(0.2)" font-size="9" font-style="italic">π</text><text transform="translate(327.8,44.0) rotate(0.2)" font-size="13.6" >=</text><text transform="translate(336.4,43.6) rotate(0.2)" font-size="13.6" textLength="6.6" lengthAdjust="spacingAndGlyphs">0</text><text transform="translate(347.0,43.6) rotate(0.2)" font-size="13.6" >MeV</text><line x1="278.4" y1="63.9" x2="304.2" y2="63.9" stroke="#0000ff" stroke-width="2.6" stroke-dasharray="2.7 2.7" stroke-dashoffset="-0.2"/><text transform="translate(312.3,67.7) rotate(0.2)" font-size="13.6" >m</text><text transform="translate(322.9,70.4) rotate(0.2)" font-size="9" font-style="italic">π</text><text transform="translate(327.8,68.1) rotate(0.2)" font-size="13.6" >=</text><text transform="translate(336.4,67.7) rotate(0.2)" font-size="13.6" textLength="13.2" lengthAdjust="spacingAndGlyphs">50</text><text transform="translate(353.6,67.7) rotate(0.2)" font-size="13.6" >MeV</text><line x1="278.4" y1="87.9" x2="304.2" y2="87.9" stroke="#22cc22" stroke-width="2.6" stroke-dasharray="5.5 5.2"/><text transform="translate(312.3,91.7) rotate(0.2)" font-size="13.6" >m</text><text transform="translate(322.9,94.4) rotate(0.2)" font-size="9" font-style="italic">π</text><text transform="translate(327.8,92.1) rotate(0.2)" font-size="13.6" >=</text><text transform="translate(336.4,91.7) rotate(0.2)" font-size="13.6" textLength="19.8" lengthAdjust="spacingAndGlyphs">100</text><text transform="translate(360.2,91.7) rotate(0.2)" font-size="13.6" >MeV</text><line x1="278.4" y1="111.9" x2="304.2" y2="111.9" stroke="#ff0000" stroke-width="2.5" stroke-dasharray="10.8 2.8 5.6 2.4"/><text transform="translate(312.3,115.7) rotate(0.2)" font-size="13.6" >m</text><text transform="translate(322.9,118.4) rotate(0.2)" font-size="9" font-style="italic">π</text><text transform="translate(327.8,116.1) rotate(0.2)" font-size="13.6" >=</text><text transform="translate(336.4,115.7) rotate(0.2)" font-size="13.6" textLength="19.8" lengthAdjust="spacingAndGlyphs">138</text><text transform="translate(360.2,115.7) rotate(0.2)" font-size="13.6" >MeV</text>
</svg>
</body></html>
